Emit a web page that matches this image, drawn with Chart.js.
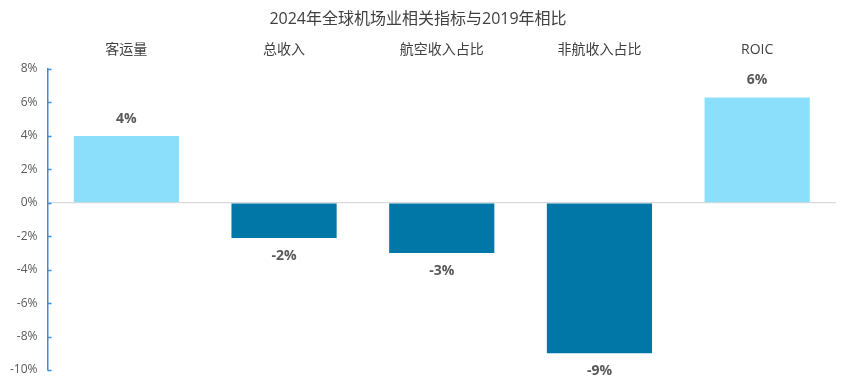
<!DOCTYPE html>
<html>
<head>
<meta charset="utf-8">
<script src="https://cdn.jsdelivr.net/npm/chart.js@4"></script>
<style>
html,body{margin:0;padding:0;background:#fff;}
#wrap{width:849px;height:384px;position:relative;}
</style>
</head>
<body>
<div id="wrap"><canvas id="c" width="849" height="384"></canvas></div>
<script>
const chartTitle = "2024年全球机场业相关指标与2019年相比";
const categories = ["客运量", "总收入", "航空收入占比", "非航收入占比", "ROIC"];
const values = [4.0, -2.1, -3.0, -9.0, 6.3];
const valueLabels = ["4%", "-2%", "-3%", "-9%", "6%"];
const yTicks = [8, 6, 4, 2, 0, -2, -4, -6, -8, -10];

const FONT = "'Open Sans', 'Noto Sans CJK SC', sans-serif";
const POS = "#8BDFFB", NEG = "#0077A6";

const labelPlugin = {
  id: 'valLabels',
  afterDatasetsDraw(chart) {
    const ctx = chart.ctx;
    const meta = chart.getDatasetMeta(0);
    ctx.save();
    ctx.font = "bold 14px " + FONT;
    ctx.fillStyle = "#595959";
    ctx.textAlign = "center";
    ctx.textBaseline = "middle";
    meta.data.forEach((bar, i) => {
      const v = values[i];
      const y = v >= 0 ? bar.y - 17 : bar.y + 18;
      ctx.fillText(valueLabels[i], bar.x, y);
    });
    ctx.restore();
  }
};

const tickPlugin = {
  id: 'innerTicks',
  afterDraw(chart) {
    const ctx = chart.ctx;
    const ys = chart.scales.y;
    ctx.save();
    ctx.strokeStyle = "#3D8FDB";
    ctx.lineWidth = 1.5;
    yTicks.forEach(t => {
      const py = Math.round(ys.getPixelForValue(t)) + 0.5;
      ctx.beginPath();
      ctx.moveTo(ys.right, py);
      ctx.lineTo(ys.right + 4, py);
      ctx.stroke();
    });
    ctx.restore();
  }
};

new Chart(document.getElementById('c'), {
  type: 'bar',
  data: {
    labels: categories,
    datasets: [{
      data: values,
      backgroundColor: values.map(v => v >= 0 ? POS : NEG),
      borderWidth: 0,
      barPercentage: 0.667,
      categoryPercentage: 1.0
    }]
  },
  options: {
    responsive: false,
    animation: false,
    devicePixelRatio: 1,
    layout: { padding: { left: 0, right: 13, top: 0, bottom: 0 } },
    plugins: {
      legend: { display: false },
      tooltip: { enabled: false },
      title: {
        display: true,
        text: chartTitle,
        color: "#404040",
        font: { family: FONT, size: 16, weight: 'normal' },
        padding: { top: 10, bottom: 1 }
      }
    },
    scales: {
      x: {
        position: 'top',
        grid: { display: false, drawTicks: false },
        border: { display: false },
        ticks: {
          color: "#404040",
          font: { family: FONT, size: 14 },
          padding: 11,
          maxRotation: 0
        }
      },
      y: {
        min: -10,
        max: 8,
        afterBuildTicks(scale) { scale.ticks = yTicks.map(v => ({ value: v })); },
        afterFit(scale) { scale.paddingBottom = 14; },
        grid: {
          drawTicks: false,
          color: ctx => ctx.tick && ctx.tick.value === 0 ? "#D9D9D9" : "rgba(0,0,0,0)",
          lineWidth: 1.2
        },
        border: { display: true, color: "#3D8FDB", width: 1.5 },
        ticks: {
          color: "#595959",
          font: { family: FONT, size: 12 },
          padding: 10,
          callback: v => v + "%"
        }
      }
    }
  },
  plugins: [labelPlugin, tickPlugin]
});
</script>
</body>
</html>
